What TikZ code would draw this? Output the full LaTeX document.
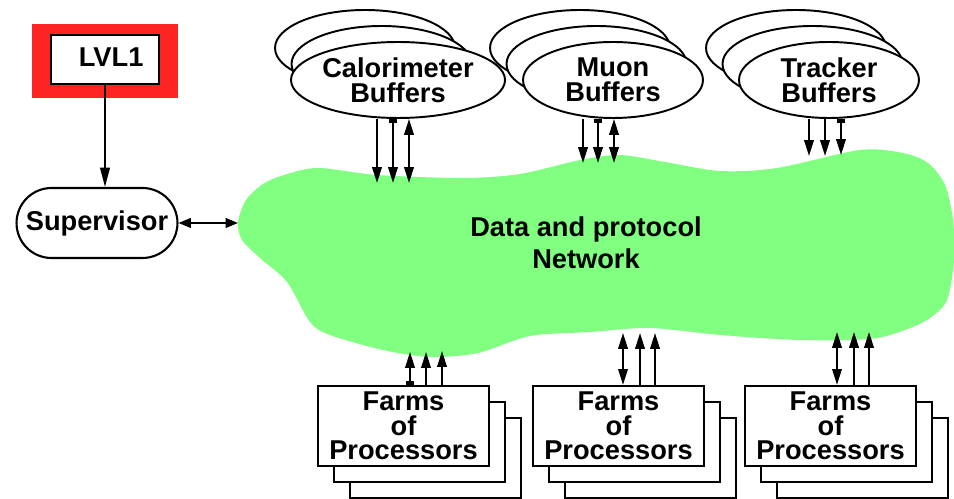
\documentclass[tikz,border=0pt]{standalone}
\usepackage{fontspec}
\setmainfont{Liberation Sans}
\usetikzlibrary{shapes.geometric, shapes.misc, arrows.meta}

\definecolor{netgreen}{HTML}{80FF80}
\definecolor{lvlred}{HTML}{FF2424}

\tikzset{
  lbl/.style={font=\fontsize{15.5}{14}\selectfont\bfseries, align=center},
  buf/.style={ellipse, draw, line width=1.1pt, fill=white, minimum width=3.6cm, minimum height=1.52cm, inner sep=0pt, lbl},
  farm/.style={rectangle, draw, line width=1.3pt, fill=white, minimum width=3.42cm, minimum height=1.6cm, inner sep=0pt, lbl},
  onetip/.style={-{Triangle[length=9pt,width=5.4pt]}, line width=1.1pt},
  twotip/.style={{Triangle[length=9pt,width=5.4pt]}-{Triangle[length=9pt,width=5.4pt]}, line width=1.1pt},
  sqtip/.style={{Rectangle[length=2.2pt,width=5pt]}-{Triangle[length=9pt,width=5.4pt]}, line width=1.1pt}
}

\begin{document}
\begin{tikzpicture}[x=0.02cm, y=-0.02cm]
    \useasboundingbox (0,0) rectangle (954,499);

    % network cloud
    \fill[netgreen] plot[smooth cycle, tension=0.5] coordinates {
      (238,222) (246,200) (263,184) (284,175) (318,168) (377,175) (463,178)
      (520,174) (580,160) (620,155) (665,162) (720,171) (777,168) (860,150)
      (903,153) (928,163) (945,185) (953,220) (954,260) (947,300) (930,318)
      (905,330) (870,339) (800,340) (720,335) (650,328) (590,332) (530,336)
      (478,353) (430,357) (383,350) (330,335) (310,322) (287,282) (260,258)
      (242,240)};
    \node[lbl, font=\fontsize{15.5}{18}\selectfont\bfseries] (net) at (586,243) {Data and protocol\\Network};
    \coordinate (netw) at (238,223);

    % trigger and supervisor
    \node[fill=lvlred, minimum width=2.92cm, minimum height=1.48cm] (lvlframe) at (105,61) {};
    \node[draw, line width=1.2pt, fill=white, minimum width=2.16cm, minimum height=0.98cm, inner sep=0pt, lbl] (lvl1) at (105,59.5) {\raisebox{3pt}{\hspace{7pt}LVL1}};
    \node[rounded rectangle, draw, line width=1.2pt, minimum width=3.36cm, minimum height=1.4cm, inner xsep=2pt, lbl] (sup) at (97,223) {Supervisor};
    \draw[-{Triangle[length=11pt,width=5.5pt]}, line width=1.1pt] (lvl1.south) -- (lvl1.south |- sup.north);
    \draw[{Triangle[length=7pt,width=5.5pt]}-{Triangle[length=7pt,width=5.5pt]}, line width=1.1pt] (sup.east) -- (netw);

    % buffers
    \foreach \nm/\x/\txt in {calo/398/Calorimeter, muon/613/Muon, trk/829/Tracker} {
      \node[buf] (\nm3) at (\x-33,48) {};
      \node[buf] (\nm2) at (\x-16.5,64) {};
      \node[buf] (\nm) at (\x,80) {\txt\\Buffers};
    }

    % processor farms
    \foreach \nm/\x in {farmA/403.5, farmB/618.5, farmC/830.5} {
      \node[farm] (\nm3) at (\x+32,458) {};
      \node[farm] (\nm2) at (\x+16,442) {};
      \node[farm] (\nm) at (\x,426) {Farms\\of\\Processors};
    }

    % buffers to network
    \foreach \nm/\x/\y/\st in {calo/377/183/onetip, calo/393/183/sqtip, calo/409/183/twotip,
                               muon/583/163/onetip, muon/598/163/sqtip, muon/614/163/twotip,
                               trk/809/156/onetip, trk/825/156/onetip, trk/841/155/sqtip} {
      \coordinate (in-\x) at (\x,\y);
      \draw[\st] (\nm.south -| in-\x) -- (in-\x);
    }

    % farms to network
    \foreach \nm/\x/\y/\st in {farmA/410/352/sqtip, farmA/426/352/onetip, farmA/442/351/onetip,
                               farmB/623/333/twotip, farmB/640/333/onetip, farmB/655/333/onetip,
                               farmC/837/332/twotip, farmC/854/332/onetip, farmC/869/332/onetip} {
      \coordinate (out-\x) at (\x,\y);
      \draw[\st] (\nm.north -| out-\x) -- (out-\x);
    }
\end{tikzpicture}
\end{document}
